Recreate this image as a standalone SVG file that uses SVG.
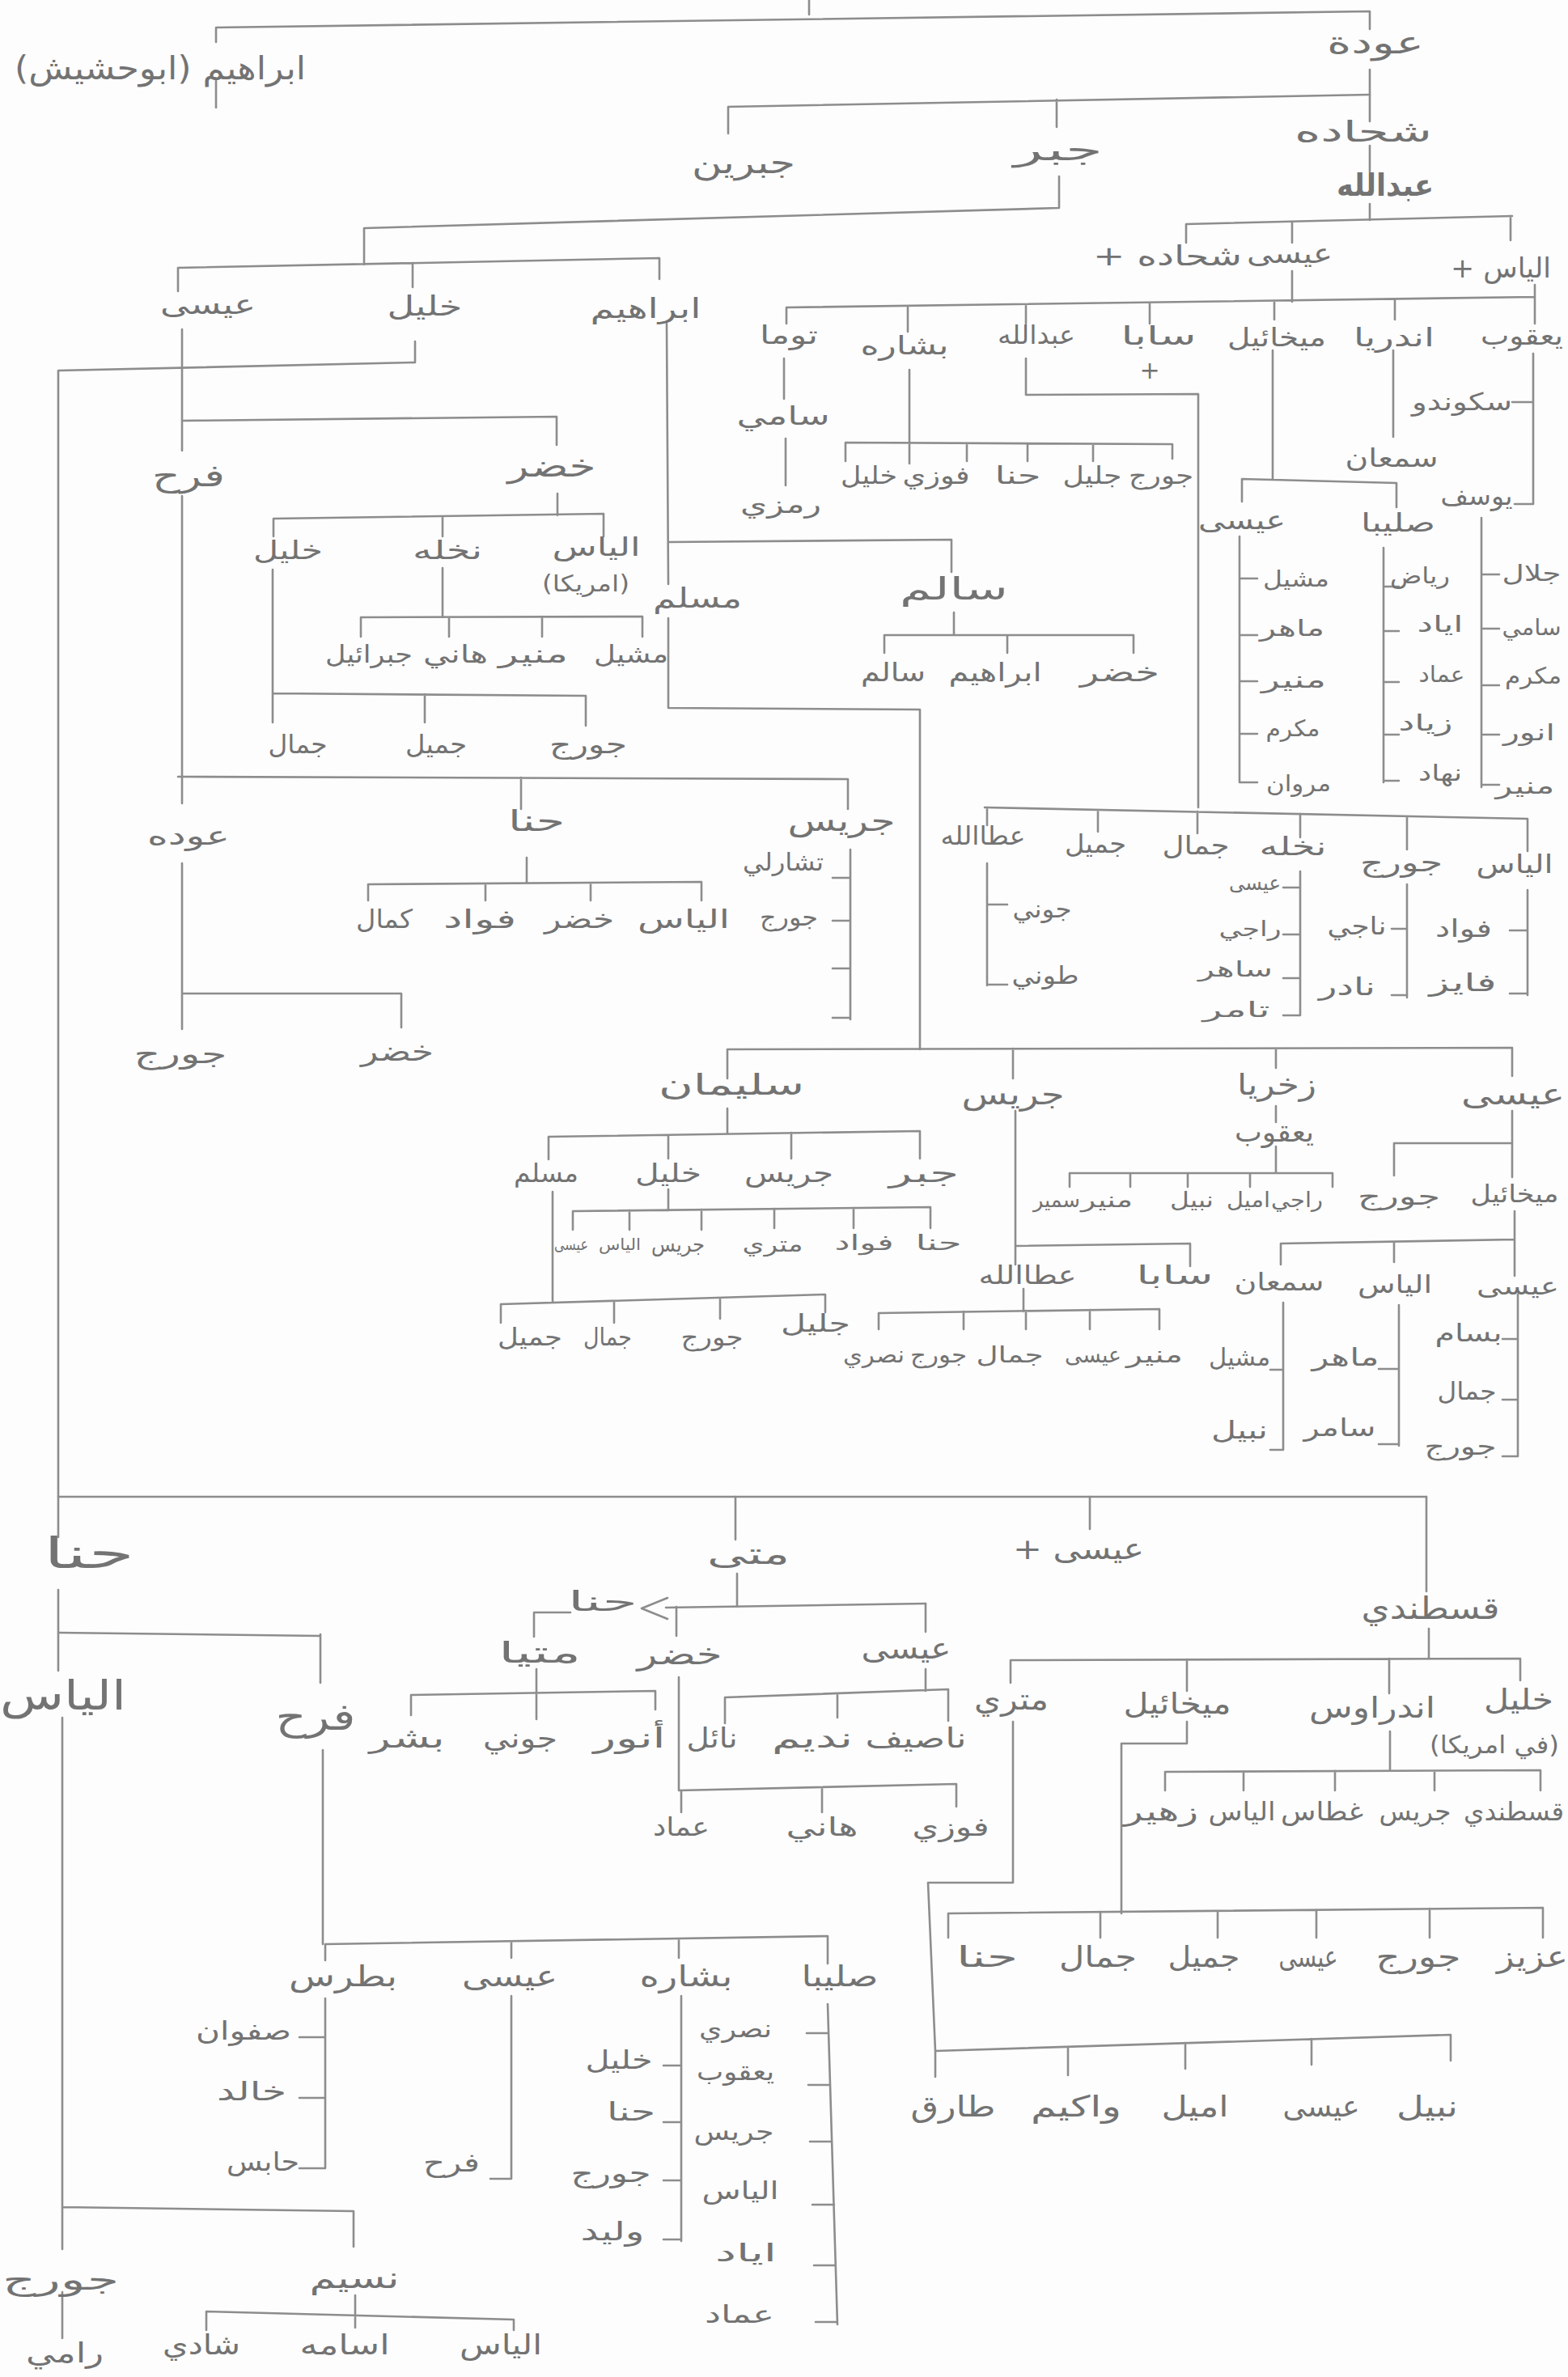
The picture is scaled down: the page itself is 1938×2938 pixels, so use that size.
<svg xmlns="http://www.w3.org/2000/svg" width="1938" height="2938" viewBox="0 0 1938 2938">
<style>
.l{fill:none;stroke:#8d8d8d;stroke-width:2.6;stroke-linecap:round;stroke-linejoin:round}
text{font-family:"DejaVu Sans","Noto Sans",sans-serif;fill:#737373;text-anchor:middle;direction:rtl}
.b{font-weight:bold}
</style>
<rect width="1938" height="2938" fill="#fdfdfd"/>
<g id="connectors" class="l">
<path d="M1000,0V18 M267,34L1693,14 M267,34V52 M267,100V133 M1693,14V36 M1693,86V150 M1693,180V212 M1693,252V272"/>
<path d="M1693,117L900,132 M900,132V165 M1306,123V157"/>
<path d="M1309,218V257L450,282V327 M220,331L815,319 M220,331V360 M510,325V355 M815,319V345"/>
<path d="M225,407V557 M225,520L688,515 M688,515V550 M225,613V993 M689,610V637 M338,641L746,635 M338,641V663 M547,638V663 M746,635V663"/>
<path d="M547,702V762 M446,763L794,762 M446,763V787 M555,763V787 M670,762V787 M794,762V787"/>
<path d="M337,704V893 M337,857L724,860 M525,858V893 M724,860V897"/>
<path d="M220,960L1048,963 M644,961V1000 M1048,963V1000"/>
<path d="M225,1067V1228L496,1228V1270 M225,1228V1272"/>
<path d="M651,1060V1091 M455,1093L867,1090 M455,1093V1113 M600,1092V1113 M730,1091V1113 M867,1090V1113"/>
<path d="M1051,1050V1260 M1051,1085H1029 M1051,1138H1029 M1051,1197H1029 M1051,1258H1029"/>
<path d="M513,422V448L72,458V1900 M72,1965V2065"/>
<path d="M824,400L826,722 M826,764V875L1137,877V1297 M826,670L1176,667V707 M1179,757V785 M1093,785H1401 M1093,785V807 M1245,785V807 M1401,785V807"/>
<path d="M899,1297L1869,1295 M899,1297V1333 M1252,1296V1333 M1577,1296V1320 M1869,1295V1330"/>
<path d="M899,1370V1401 M678,1405L1137,1398 M678,1405V1433 M826,1403V1432 M978,1400V1432 M1137,1398V1432"/>
<path d="M826,1470V1496 M708,1497L1150,1492 M708,1497V1520 M778,1496V1520 M867,1495V1520 M957,1494V1518 M1055,1493V1518 M1150,1492V1518"/>
<path d="M683,1473V1610 M619,1612L1020,1600 M619,1612V1635 M759,1608V1635 M890,1604V1630 M1020,1600V1622"/>
<path d="M1577,1367V1387 M1577,1417V1450 M1322,1450H1647 M1322,1450V1467 M1397,1450V1467 M1468,1450V1467 M1545,1450V1467 M1647,1450V1467"/>
<path d="M1255,1373V1540 M1255,1540L1471,1537 M1471,1537V1565 M1255,1540V1563"/>
<path d="M1265,1593V1621 M1086,1623L1433,1618 M1086,1623V1643 M1191,1621V1643 M1268,1620V1643 M1347,1619V1643 M1433,1618V1643"/>
<path d="M1869,1373V1413 M1723,1413H1869 M1723,1413V1453 M1869,1413V1455 M1872,1497V1532 M1583,1537L1872,1532 M1583,1537V1563 M1723,1535V1560 M1872,1532V1577"/>
<path d="M1876,1600V1800 M1876,1655H1857 M1876,1730H1857 M1876,1800H1857 M1729,1613V1787 M1729,1692H1704 M1729,1785H1704 M1586,1610V1792 M1586,1693H1570 M1586,1792H1570"/>
<path d="M1466,277L1869,267 M1466,277V300 M1597,274V300 M1867,267V297"/>
<path d="M1597,335V373 M972,380L1897,367 M972,380V400 M1122,378V410 M1268,376V400 M1421,374V400 M1575,372V395 M1724,370V395 M1897,352V400"/>
<path d="M969,443V493 M971,542V600"/>
<path d="M1124,457V547 M1045,547L1449,549 M1045,547V570 M1124,547V573 M1195,548V570 M1270,548V570 M1351,549V570 M1449,549V567"/>
<path d="M1268,443V488L1481,487V998 M1217,998L1888,1012 M1220,998V1020 M1357,1001V1028 M1480,1003V1030 M1607,1006V1035 M1739,1009V1050 M1888,1012V1052"/>
<path d="M1220,1067V1218 M1220,1118H1245 M1220,1217H1245 M1607,1077V1255 M1607,1097H1586 M1607,1155H1586 M1607,1209H1586 M1607,1255H1586 M1739,1093V1233 M1739,1148H1720 M1739,1230H1720 M1888,1100V1230 M1888,1150H1866 M1888,1228H1866"/>
<path d="M1573,433V592 M1535,592L1726,597 M1535,592V620 M1726,597V627 M1532,663V967 M1532,715H1554 M1532,785H1554 M1532,842H1554 M1532,907H1554 M1532,967H1554 M1710,677V967 M1710,725H1729 M1710,780H1729 M1710,843H1729 M1710,908H1729 M1710,965H1729"/>
<path d="M1722,433V540 M1895,437V623H1872 M1895,497H1869 M1831,640V973 M1831,710H1853 M1831,777H1853 M1831,847H1853 M1831,908H1853 M1831,970H1853"/>
<path d="M72,1850H1763"/>
<path d="M73,2018L396,2022 M396,2020V2080 M77,2123V2780 M77,2728L437,2733 M437,2733V2777 M77,2833V2890 M439,2837V2860 M255,2857L635,2867 M255,2857V2880 M439,2862V2877 M635,2867V2880"/>
<path d="M399,2163V2403 M402,2403L1023,2393 M402,2403V2423 M632,2400V2420 M839,2397V2420 M1023,2393V2427"/>
<path d="M402,2470V2680 M402,2518H370 M402,2593H370 M402,2680H370 M632,2467V2693H606 M842,2467V2770 M842,2553H820 M842,2623H820 M842,2695H820 M842,2768H820 M1023,2477L1035,2873 M1024,2513H997 M1026,2577H999 M1028,2647H1001 M1031,2725H1004 M1033,2800H1006 M1035,2870H1008"/>
<path d="M909,1850V1903 M911,1945V1986 M823,1987L1144,1982 M825,1975L793,1988L825,2001 M660,2023V1993H705"/>
<path d="M663,2063V2125 M508,2095L810,2090 M508,2095V2120 M810,2090V2113"/>
<path d="M836,1986V2022 M839,2073V2213 M839,2213L1182,2205 M842,2213V2240 M1016,2209V2240 M1182,2205V2233"/>
<path d="M1144,1982V2017 M1144,2063V2090 M896,2098L1172,2088 M896,2098V2130 M1035,2093V2123 M1172,2088V2127"/>
<path d="M1347,1850V1890 M1763,1850V1967 M1766,2013V2050 M1249,2052L1879,2050 M1249,2052V2080 M1467,2051V2090 M1717,2050V2093 M1879,2050V2077"/>
<path d="M1718,2140V2188 M1440,2190L1904,2188 M1440,2190V2213 M1537,2190V2213 M1650,2189V2213 M1773,2189V2213 M1904,2188V2213"/>
<path d="M1467,2128V2155H1386V2365 M1172,2365L1907,2358 M1172,2365V2395 M1360,2363V2395 M1505,2362V2395 M1627,2361V2395 M1767,2359V2395 M1907,2358V2395"/>
<path d="M1252,2128V2327H1147L1156,2535 M1156,2535L1793,2515 M1156,2535V2567 M1320,2530V2565 M1465,2525V2557 M1621,2520V2552 M1793,2515V2547"/>
</g>
<g id="n-ibrahim-abuhashish"><text x="198" y="98" font-size="40" textLength="360" lengthAdjust="spacingAndGlyphs">ابراهيم (ابوحشيش)</text></g>
<g id="n-ouda-top"><text x="1700" y="66" font-size="38" textLength="120" lengthAdjust="spacingAndGlyphs">عودة</text></g>
<g id="n-jubrin"><text x="919" y="214" font-size="38" textLength="128" lengthAdjust="spacingAndGlyphs">جبرين</text></g>
<g id="n-jabr"><text x="1308" y="198" font-size="38" textLength="110" lengthAdjust="spacingAndGlyphs">جبر</text></g>
<g id="n-shahadeh"><text x="1685" y="175" font-size="36" textLength="170" lengthAdjust="spacingAndGlyphs">شحاده</text></g>
<g id="n-abdallah"><text class="b" x="1712" y="242" font-size="38" textLength="120" lengthAdjust="spacingAndGlyphs">عبدالله</text></g>
<g id="n-eisa-a"><text x="1594" y="325" font-size="34" textLength="106" lengthAdjust="spacingAndGlyphs">عيسى</text></g>
<g id="n-shahadeh-b"><text x="1443" y="328" font-size="34" textLength="184" lengthAdjust="spacingAndGlyphs">شحاده +</text></g>
<g id="n-elias-a"><text x="1855" y="343" font-size="34" textLength="124" lengthAdjust="spacingAndGlyphs">الياس +</text></g>
<g id="n-eisa-a-kids">
<text x="975" y="425" font-size="32" textLength="72" lengthAdjust="spacingAndGlyphs">توما</text>
<text x="1118" y="438" font-size="32" textLength="109" lengthAdjust="spacingAndGlyphs">بشاره</text>
<text x="1281" y="425" font-size="32" textLength="96" lengthAdjust="spacingAndGlyphs">عبدالله</text>
<text x="1432" y="426" font-size="32" textLength="93" lengthAdjust="spacingAndGlyphs">سابا</text>
<text x="1421" y="468" font-size="30">+</text>
<text x="1578" y="428" font-size="32" textLength="122" lengthAdjust="spacingAndGlyphs">ميخائيل</text>
<text x="1723" y="428" font-size="32" textLength="100" lengthAdjust="spacingAndGlyphs">اندريا</text>
<text x="1881" y="426" font-size="32" textLength="102" lengthAdjust="spacingAndGlyphs">يعقوب</text>
</g>
<g id="n-toma-line">
<text x="968" y="525" font-size="32" textLength="115" lengthAdjust="spacingAndGlyphs">سامي</text>
<text x="965" y="634" font-size="30" textLength="100" lengthAdjust="spacingAndGlyphs">رمزي</text>
</g>
<g id="n-bishara-kids">
<text x="1074" y="598" font-size="30" textLength="70" lengthAdjust="spacingAndGlyphs">خليل</text>
<text x="1157" y="598" font-size="30" textLength="83" lengthAdjust="spacingAndGlyphs">فوزي</text>
<text x="1258" y="598" font-size="30" textLength="57" lengthAdjust="spacingAndGlyphs">حنا</text>
<text x="1350" y="598" font-size="30" textLength="73" lengthAdjust="spacingAndGlyphs">جليل</text>
<text x="1435" y="598" font-size="30" textLength="80" lengthAdjust="spacingAndGlyphs">جورج</text>
</g>
<g id="n-iskandar"><text x="1807" y="507" font-size="30" textLength="124" lengthAdjust="spacingAndGlyphs">سكوندو</text></g>
<g id="n-samaan-a"><text x="1720" y="577" font-size="32" textLength="115" lengthAdjust="spacingAndGlyphs">سمعان</text></g>
<g id="n-yousef"><text x="1825" y="624" font-size="32" textLength="89" lengthAdjust="spacingAndGlyphs">يوسف</text></g>
<g id="n-mikhail-kids">
<text x="1535" y="654" font-size="32" textLength="108" lengthAdjust="spacingAndGlyphs">عيسى</text>
<text x="1728" y="657" font-size="32" textLength="92" lengthAdjust="spacingAndGlyphs">صليبا</text>
</g>
<g id="n-eisa-list">
<text x="1602" y="725" font-size="28" textLength="82" lengthAdjust="spacingAndGlyphs">مشيل</text>
<text x="1597" y="786" font-size="28" textLength="80" lengthAdjust="spacingAndGlyphs">ماهر</text>
<text x="1599" y="850" font-size="28" textLength="80" lengthAdjust="spacingAndGlyphs">منير</text>
<text x="1598" y="910" font-size="28" textLength="67" lengthAdjust="spacingAndGlyphs">مكرم</text>
<text x="1605" y="978" font-size="28" textLength="80" lengthAdjust="spacingAndGlyphs">مروان</text>
</g>
<g id="n-saliba-list">
<text x="1755" y="721" font-size="28" textLength="74" lengthAdjust="spacingAndGlyphs">رياض</text>
<text x="1780" y="781" font-size="28" textLength="57" lengthAdjust="spacingAndGlyphs">اياد</text>
<text x="1782" y="843" font-size="28" textLength="57" lengthAdjust="spacingAndGlyphs">عماد</text>
<text x="1762" y="903" font-size="28" textLength="67" lengthAdjust="spacingAndGlyphs">زياد</text>
<text x="1780" y="965" font-size="28" textLength="54" lengthAdjust="spacingAndGlyphs">نهاد</text>
</g>
<g id="n-yousef-list">
<text x="1893" y="718" font-size="28" textLength="73" lengthAdjust="spacingAndGlyphs">جلال</text>
<text x="1893" y="785" font-size="28" textLength="73" lengthAdjust="spacingAndGlyphs">سامي</text>
<text x="1895" y="845" font-size="28" textLength="70" lengthAdjust="spacingAndGlyphs">مكرم</text>
<text x="1890" y="915" font-size="28" textLength="64" lengthAdjust="spacingAndGlyphs">انور</text>
<text x="1885" y="981" font-size="28" textLength="73" lengthAdjust="spacingAndGlyphs">منير</text>
</g>
<g id="n-jabr-kids">
<text x="257" y="388" font-size="34" textLength="118" lengthAdjust="spacingAndGlyphs">عيسى</text>
<text x="525" y="390" font-size="34" textLength="93" lengthAdjust="spacingAndGlyphs">خليل</text>
<text x="798" y="393" font-size="34" textLength="137" lengthAdjust="spacingAndGlyphs">ابراهيم</text>
</g>
<g id="n-farah-a"><text x="233" y="601" font-size="38" textLength="90" lengthAdjust="spacingAndGlyphs">فرح</text></g>
<g id="n-khader-a"><text x="682" y="589" font-size="38" textLength="109" lengthAdjust="spacingAndGlyphs">خضر</text></g>
<g id="n-khader-a-kids">
<text x="356" y="691" font-size="32" textLength="86" lengthAdjust="spacingAndGlyphs">خليل</text>
<text x="553" y="691" font-size="32" textLength="86" lengthAdjust="spacingAndGlyphs">نخله</text>
<text x="737" y="687" font-size="32" textLength="109" lengthAdjust="spacingAndGlyphs">الياس</text>
<text x="724" y="731" font-size="28" textLength="108" lengthAdjust="spacingAndGlyphs">(امريكا)</text>
</g>
<g id="n-muslim"><text x="862" y="751" font-size="34" textLength="110" lengthAdjust="spacingAndGlyphs">مسلم</text></g>
<g id="n-nakhleh-a-kids">
<text x="456" y="819" font-size="30" textLength="108" lengthAdjust="spacingAndGlyphs">جبرائيل</text>
<text x="563" y="819" font-size="30" textLength="80" lengthAdjust="spacingAndGlyphs">هاني</text>
<text x="659" y="819" font-size="30" textLength="86" lengthAdjust="spacingAndGlyphs">منير</text>
<text x="780" y="819" font-size="30" textLength="92" lengthAdjust="spacingAndGlyphs">مشيل</text>
</g>
<g id="n-khalil-b-kids">
<text x="368" y="931" font-size="32" textLength="73" lengthAdjust="spacingAndGlyphs">جمال</text>
<text x="539" y="931" font-size="32" textLength="76" lengthAdjust="spacingAndGlyphs">جميل</text>
<text x="727" y="931" font-size="32" textLength="96" lengthAdjust="spacingAndGlyphs">جورج</text>
</g>
<g id="n-salem"><text x="1179" y="741" font-size="38" textLength="134" lengthAdjust="spacingAndGlyphs">سالم</text></g>
<g id="n-salem-kids">
<text x="1104" y="842" font-size="32" textLength="80" lengthAdjust="spacingAndGlyphs">سالم</text>
<text x="1230" y="842" font-size="32" textLength="115" lengthAdjust="spacingAndGlyphs">ابراهيم</text>
<text x="1384" y="842" font-size="32" textLength="98" lengthAdjust="spacingAndGlyphs">خضر</text>
</g>
<g id="n-abdallah-b-kids">
<text x="1215" y="1044" font-size="32" textLength="105" lengthAdjust="spacingAndGlyphs">عطاالله</text>
<text x="1354" y="1054" font-size="32" textLength="76" lengthAdjust="spacingAndGlyphs">جميل</text>
<text x="1478" y="1056" font-size="32" textLength="83" lengthAdjust="spacingAndGlyphs">جمال</text>
<text x="1598" y="1057" font-size="32" textLength="83" lengthAdjust="spacingAndGlyphs">نخله</text>
<text x="1732" y="1077" font-size="32" textLength="102" lengthAdjust="spacingAndGlyphs">جورج</text>
<text x="1872" y="1079" font-size="32" textLength="95" lengthAdjust="spacingAndGlyphs">الياس</text>
</g>
<g id="n-ataallah-kids">
<text x="1288" y="1134" font-size="30" textLength="73" lengthAdjust="spacingAndGlyphs">جوني</text>
<text x="1292" y="1216" font-size="30" textLength="83" lengthAdjust="spacingAndGlyphs">طوني</text>
</g>
<g id="n-nakhleh-b-kids">
<text x="1551" y="1100" font-size="26" textLength="64" lengthAdjust="spacingAndGlyphs">عيسى</text>
<text x="1545" y="1157" font-size="26" textLength="77" lengthAdjust="spacingAndGlyphs">راجي</text>
<text x="1527" y="1207" font-size="26" textLength="92" lengthAdjust="spacingAndGlyphs">ساهر</text>
<text x="1528" y="1257" font-size="26" textLength="83" lengthAdjust="spacingAndGlyphs">تامر</text>
</g>
<g id="n-george-b-kids">
<text x="1677" y="1155" font-size="30" textLength="73" lengthAdjust="spacingAndGlyphs">ناجي</text>
<text x="1665" y="1230" font-size="30" textLength="70" lengthAdjust="spacingAndGlyphs">نادر</text>
</g>
<g id="n-elias-b-kids">
<text x="1809" y="1158" font-size="30" textLength="70" lengthAdjust="spacingAndGlyphs">فواد</text>
<text x="1808" y="1225" font-size="30" textLength="83" lengthAdjust="spacingAndGlyphs">فايز</text>
</g>
<g id="n-farah-a-kids">
<text x="663" y="1027" font-size="36" textLength="70" lengthAdjust="spacingAndGlyphs">حنا</text>
<text x="1040" y="1027" font-size="36" textLength="133" lengthAdjust="spacingAndGlyphs">جريس</text>
<text x="233" y="1044" font-size="32" textLength="102" lengthAdjust="spacingAndGlyphs">عوده</text>
</g>
<g id="n-hanna-a-kids">
<text x="475" y="1147" font-size="32" textLength="70" lengthAdjust="spacingAndGlyphs">كمال</text>
<text x="593" y="1147" font-size="32" textLength="90" lengthAdjust="spacingAndGlyphs">فواد</text>
<text x="716" y="1147" font-size="32" textLength="86" lengthAdjust="spacingAndGlyphs">خضر</text>
<text x="845" y="1147" font-size="32" textLength="114" lengthAdjust="spacingAndGlyphs">الياس</text>
</g>
<g id="n-jiries-a-kids">
<text x="968" y="1076" font-size="30" textLength="100" lengthAdjust="spacingAndGlyphs">تشارلي</text>
<text x="975" y="1144" font-size="30" textLength="72" lengthAdjust="spacingAndGlyphs">جورج</text>
</g>
<g id="n-ouda-kids">
<text x="223" y="1314" font-size="34" textLength="115" lengthAdjust="spacingAndGlyphs">جورج</text>
<text x="491" y="1311" font-size="34" textLength="90" lengthAdjust="spacingAndGlyphs">خضر</text>
</g>
<g id="n-ibrahim-kids">
<text x="904" y="1353" font-size="36" textLength="180" lengthAdjust="spacingAndGlyphs">سليمان</text>
<text x="1252" y="1365" font-size="36" textLength="127" lengthAdjust="spacingAndGlyphs">جريس</text>
<text x="1578" y="1353" font-size="36" textLength="98" lengthAdjust="spacingAndGlyphs">زخريا</text>
<text x="1575" y="1411" font-size="34" textLength="98" lengthAdjust="spacingAndGlyphs">يعقوب</text>
<text x="1870" y="1365" font-size="36" textLength="128" lengthAdjust="spacingAndGlyphs">عيسى</text>
</g>
<g id="n-suleiman-kids">
<text x="675" y="1461" font-size="32" textLength="80" lengthAdjust="spacingAndGlyphs">مسلم</text>
<text x="826" y="1461" font-size="32" textLength="82" lengthAdjust="spacingAndGlyphs">خليل</text>
<text x="975" y="1461" font-size="32" textLength="110" lengthAdjust="spacingAndGlyphs">جريس</text>
<text x="1142" y="1461" font-size="32" textLength="86" lengthAdjust="spacingAndGlyphs">جبر</text>
</g>
<g id="n-khalil-c-kids">
<text x="706" y="1545" font-size="20" textLength="42" lengthAdjust="spacingAndGlyphs">عيسى</text>
<text x="766" y="1545" font-size="20" textLength="52" lengthAdjust="spacingAndGlyphs">الياس</text>
<text x="838" y="1547" font-size="26" textLength="66" lengthAdjust="spacingAndGlyphs">جريس</text>
<text x="955" y="1547" font-size="26" textLength="75" lengthAdjust="spacingAndGlyphs">متري</text>
<text x="1068" y="1545" font-size="26" textLength="73" lengthAdjust="spacingAndGlyphs">فواد</text>
<text x="1160" y="1545" font-size="26" textLength="57" lengthAdjust="spacingAndGlyphs">حنا</text>
</g>
<g id="n-muslim-b-kids">
<text x="655" y="1663" font-size="30" textLength="80" lengthAdjust="spacingAndGlyphs">جميل</text>
<text x="751" y="1663" font-size="30" textLength="60" lengthAdjust="spacingAndGlyphs">جمال</text>
<text x="880" y="1663" font-size="30" textLength="77" lengthAdjust="spacingAndGlyphs">جورج</text>
<text x="1008" y="1646" font-size="30" textLength="86" lengthAdjust="spacingAndGlyphs">جليل</text>
</g>
<g id="n-yaqoub-b-kids">
<text x="1306" y="1492" font-size="26" textLength="58" lengthAdjust="spacingAndGlyphs">سمير</text>
<text x="1368" y="1492" font-size="26" textLength="64" lengthAdjust="spacingAndGlyphs">منير</text>
<text x="1473" y="1492" font-size="26" textLength="54" lengthAdjust="spacingAndGlyphs">نبيل</text>
<text x="1543" y="1492" font-size="26" textLength="54" lengthAdjust="spacingAndGlyphs">اميل</text>
<text x="1603" y="1492" font-size="26" textLength="64" lengthAdjust="spacingAndGlyphs">راجي</text>
</g>
<g id="n-eisa-c-kids">
<text x="1729" y="1489" font-size="30" textLength="102" lengthAdjust="spacingAndGlyphs">جورج</text>
<text x="1872" y="1486" font-size="30" textLength="109" lengthAdjust="spacingAndGlyphs">ميخائيل</text>
</g>
<g id="n-mikhail-c-kids">
<text x="1581" y="1595" font-size="30" textLength="111" lengthAdjust="spacingAndGlyphs">سمعان</text>
<text x="1724" y="1598" font-size="30" textLength="92" lengthAdjust="spacingAndGlyphs">الياس</text>
<text x="1876" y="1600" font-size="30" textLength="102" lengthAdjust="spacingAndGlyphs">عيسى</text>
</g>
<g id="n-eisa-d-kids">
<text x="1815" y="1658" font-size="30" textLength="83" lengthAdjust="spacingAndGlyphs">بسام</text>
<text x="1813" y="1730" font-size="30" textLength="73" lengthAdjust="spacingAndGlyphs">جمال</text>
<text x="1805" y="1798" font-size="30" textLength="89" lengthAdjust="spacingAndGlyphs">جورج</text>
</g>
<g id="n-elias-d-kids">
<text x="1663" y="1688" font-size="30" textLength="83" lengthAdjust="spacingAndGlyphs">ماهر</text>
<text x="1656" y="1775" font-size="30" textLength="89" lengthAdjust="spacingAndGlyphs">سامر</text>
</g>
<g id="n-samaan-d-kids">
<text x="1532" y="1688" font-size="30" textLength="76" lengthAdjust="spacingAndGlyphs">مشيل</text>
<text x="1532" y="1778" font-size="30" textLength="70" lengthAdjust="spacingAndGlyphs">نبيل</text>
</g>
<g id="n-jiries-b-kids">
<text x="1270" y="1587" font-size="32" textLength="121" lengthAdjust="spacingAndGlyphs">عطاالله</text>
<text x="1452" y="1587" font-size="32" textLength="95" lengthAdjust="spacingAndGlyphs">سابا</text>
</g>
<g id="n-ataallah-b-kids">
<text x="1080" y="1684" font-size="28" textLength="76" lengthAdjust="spacingAndGlyphs">نصري</text>
<text x="1160" y="1684" font-size="28" textLength="70" lengthAdjust="spacingAndGlyphs">جورج</text>
<text x="1248" y="1684" font-size="28" textLength="83" lengthAdjust="spacingAndGlyphs">جمال</text>
<text x="1351" y="1684" font-size="28" textLength="70" lengthAdjust="spacingAndGlyphs">عيسى</text>
<text x="1427" y="1684" font-size="28" textLength="70" lengthAdjust="spacingAndGlyphs">منير</text>
</g>
<g id="n-khalil-a-kids">
<text x="110" y="1938" font-size="52" textLength="112" lengthAdjust="spacingAndGlyphs">حنا</text>
<text x="925" y="1933" font-size="36" textLength="102" lengthAdjust="spacingAndGlyphs">متى</text>
<text x="1333" y="1927" font-size="36" textLength="162" lengthAdjust="spacingAndGlyphs">عيسى +</text>
<text x="1768" y="2001" font-size="38" textLength="171" lengthAdjust="spacingAndGlyphs">قسطندي</text>
</g>
<g id="n-hanna-b-kids">
<text x="78" y="2113" font-size="50" textLength="156" lengthAdjust="spacingAndGlyphs">الياس</text>
<text x="390" y="2138" font-size="46" textLength="99" lengthAdjust="spacingAndGlyphs">فرح</text>
</g>
<g id="n-matta-kids">
<text x="745" y="1991" font-size="34" textLength="86" lengthAdjust="spacingAndGlyphs">حنا</text>
<text x="667" y="2055" font-size="36" textLength="102" lengthAdjust="spacingAndGlyphs">متيا</text>
<text x="840" y="2057" font-size="36" textLength="105" lengthAdjust="spacingAndGlyphs">خضر</text>
<text x="1120" y="2050" font-size="36" textLength="111" lengthAdjust="spacingAndGlyphs">عيسى</text>
</g>
<g id="n-mattia-kids">
<text x="503" y="2160" font-size="34" textLength="93" lengthAdjust="spacingAndGlyphs">بشر</text>
<text x="643" y="2160" font-size="34" textLength="92" lengthAdjust="spacingAndGlyphs">جوني</text>
<text x="778" y="2160" font-size="34" textLength="89" lengthAdjust="spacingAndGlyphs">أنور</text>
</g>
<g id="n-eisa-e-kids">
<text x="880" y="2160" font-size="34" textLength="63" lengthAdjust="spacingAndGlyphs">نائل</text>
<text x="1004" y="2160" font-size="34" textLength="100" lengthAdjust="spacingAndGlyphs">نديم</text>
<text x="1132" y="2160" font-size="34" textLength="125" lengthAdjust="spacingAndGlyphs">ناصيف</text>
</g>
<g id="n-khader-e-kids">
<text x="842" y="2269" font-size="32" textLength="70" lengthAdjust="spacingAndGlyphs">عماد</text>
<text x="1016" y="2269" font-size="32" textLength="89" lengthAdjust="spacingAndGlyphs">هاني</text>
<text x="1175" y="2269" font-size="32" textLength="95" lengthAdjust="spacingAndGlyphs">فوزي</text>
</g>
<g id="n-qustandi-kids">
<text x="1250" y="2113" font-size="36" textLength="92" lengthAdjust="spacingAndGlyphs">متري</text>
<text x="1455" y="2118" font-size="36" textLength="133" lengthAdjust="spacingAndGlyphs">ميخائيل</text>
<text x="1696" y="2123" font-size="36" textLength="156" lengthAdjust="spacingAndGlyphs">اندراوس</text>
<text x="1877" y="2113" font-size="36" textLength="86" lengthAdjust="spacingAndGlyphs">خليل</text>
<text x="1847" y="2167" font-size="30" textLength="160" lengthAdjust="spacingAndGlyphs">(في امريكا)</text>
</g>
<g id="n-andraos-kids">
<text x="1435" y="2250" font-size="32" textLength="92" lengthAdjust="spacingAndGlyphs">زهير</text>
<text x="1535" y="2250" font-size="32" textLength="83" lengthAdjust="spacingAndGlyphs">الياس</text>
<text x="1634" y="2250" font-size="32" textLength="102" lengthAdjust="spacingAndGlyphs">غطاس</text>
<text x="1749" y="2250" font-size="32" textLength="89" lengthAdjust="spacingAndGlyphs">جريس</text>
<text x="1871" y="2250" font-size="32" textLength="124" lengthAdjust="spacingAndGlyphs">قسطندي</text>
</g>
<g id="n-mikhail-e-kids">
<text x="1220" y="2431" font-size="36" textLength="76" lengthAdjust="spacingAndGlyphs">حنا</text>
<text x="1357" y="2431" font-size="36" textLength="96" lengthAdjust="spacingAndGlyphs">جمال</text>
<text x="1488" y="2431" font-size="36" textLength="89" lengthAdjust="spacingAndGlyphs">جميل</text>
<text x="1617" y="2431" font-size="36" textLength="73" lengthAdjust="spacingAndGlyphs">عيسى</text>
<text x="1753" y="2431" font-size="36" textLength="105" lengthAdjust="spacingAndGlyphs">جورج</text>
<text x="1894" y="2431" font-size="36" textLength="88" lengthAdjust="spacingAndGlyphs">عزيز</text>
</g>
<g id="n-mitri-kids">
<text x="1178" y="2616" font-size="36" textLength="105" lengthAdjust="spacingAndGlyphs">طارق</text>
<text x="1330" y="2616" font-size="36" textLength="112" lengthAdjust="spacingAndGlyphs">واكيم</text>
<text x="1477" y="2616" font-size="36" textLength="83" lengthAdjust="spacingAndGlyphs">اميل</text>
<text x="1633" y="2616" font-size="36" textLength="95" lengthAdjust="spacingAndGlyphs">عيسى</text>
<text x="1764" y="2616" font-size="36" textLength="76" lengthAdjust="spacingAndGlyphs">نبيل</text>
</g>
<g id="n-farah-b-kids">
<text x="424" y="2455" font-size="36" textLength="134" lengthAdjust="spacingAndGlyphs">بطرس</text>
<text x="630" y="2455" font-size="36" textLength="118" lengthAdjust="spacingAndGlyphs">عيسى</text>
<text x="848" y="2455" font-size="36" textLength="115" lengthAdjust="spacingAndGlyphs">بشاره</text>
<text x="1038" y="2455" font-size="36" textLength="95" lengthAdjust="spacingAndGlyphs">صليبا</text>
</g>
<g id="n-butros-kids">
<text x="301" y="2521" font-size="32" textLength="118" lengthAdjust="spacingAndGlyphs">صفوان</text>
<text x="311" y="2596" font-size="32" textLength="86" lengthAdjust="spacingAndGlyphs">خالد</text>
<text x="325" y="2683" font-size="32" textLength="90" lengthAdjust="spacingAndGlyphs">حابس</text>
</g>
<g id="n-eisa-f-kids"><text x="558" y="2684" font-size="32" textLength="70" lengthAdjust="spacingAndGlyphs">فرح</text></g>
<g id="n-bishara-b-kids">
<text x="765" y="2557" font-size="32" textLength="83" lengthAdjust="spacingAndGlyphs">خليل</text>
<text x="780" y="2621" font-size="32" textLength="60" lengthAdjust="spacingAndGlyphs">حنا</text>
<text x="755" y="2697" font-size="32" textLength="99" lengthAdjust="spacingAndGlyphs">جورج</text>
<text x="757" y="2769" font-size="32" textLength="79" lengthAdjust="spacingAndGlyphs">وليد</text>
</g>
<g id="n-saliba-b-kids">
<text x="909" y="2518" font-size="30" textLength="90" lengthAdjust="spacingAndGlyphs">نصري</text>
<text x="909" y="2571" font-size="30" textLength="96" lengthAdjust="spacingAndGlyphs">يعقوب</text>
<text x="907" y="2645" font-size="30" textLength="99" lengthAdjust="spacingAndGlyphs">جريس</text>
<text x="915" y="2718" font-size="30" textLength="95" lengthAdjust="spacingAndGlyphs">الياس</text>
<text x="922" y="2795" font-size="30" textLength="76" lengthAdjust="spacingAndGlyphs">اياد</text>
<text x="914" y="2871" font-size="30" textLength="86" lengthAdjust="spacingAndGlyphs">عماد</text>
</g>
<g id="n-elias-g-kids">
<text x="75" y="2830" font-size="36" textLength="144" lengthAdjust="spacingAndGlyphs">جورج</text>
<text x="438" y="2828" font-size="36" textLength="111" lengthAdjust="spacingAndGlyphs">نسيم</text>
<text x="80" y="2920" font-size="34" textLength="96" lengthAdjust="spacingAndGlyphs">رامي</text>
</g>
<g id="n-nasim-kids">
<text x="249" y="2910" font-size="34" textLength="96" lengthAdjust="spacingAndGlyphs">شادي</text>
<text x="426" y="2910" font-size="34" textLength="111" lengthAdjust="spacingAndGlyphs">اسامه</text>
<text x="619" y="2910" font-size="34" textLength="102" lengthAdjust="spacingAndGlyphs">الياس</text>
</g>
</svg>
